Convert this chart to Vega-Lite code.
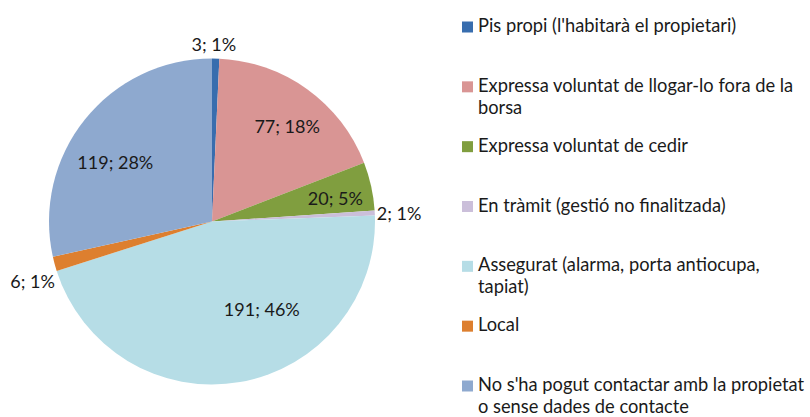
{
  "$schema": "https://vega.github.io/schema/vega-lite/v6.json",
  "padding": {"left": 0, "top": 17, "right": 0, "bottom": 0},
  "autosize": {"type": "pad"},
  "spacing": 0,
  "bounds": "flush",
  "background": "white",
  "config": {"view": {"stroke": null}, "font": "Lato"},
  "data": {
    "values": [
      {"cat": "Pis propi (l'habitarà el propietari)", "value": 3, "label": "3; 1%", "order": 1},
      {"cat": "Expressa voluntat de llogar-lo fora de la\nborsa", "value": 77, "label": "77; 18%", "order": 2},
      {"cat": "Expressa voluntat de cedir", "value": 20, "label": "20; 5%", "order": 3},
      {"cat": "En tràmit (gestió no finalitzada)", "value": 2, "label": "2; 1%", "order": 4},
      {"cat": "Assegurat (alarma, porta antiocupa,\ntapiat)", "value": 191, "label": "191; 46%", "order": 5},
      {"cat": "Local", "value": 6, "label": "6; 1%", "order": 6},
      {"cat": "No s'ha pogut contactar amb la propietat\n\u00a0o sense dades de contacte", "value": 119, "label": "119; 28%", "order": 7}
    ]
  },
  "hconcat": [
    {
      "width": 424,
      "height": 393,
      "layer": [
        {
          "mark": {"type": "arc", "outerRadius": 163, "yOffset": 7},
          "encoding": {
            "theta": {"field": "value", "type": "quantitative", "stack": true},
            "order": {"field": "order", "type": "quantitative"},
            "color": {
              "field": "order",
              "type": "ordinal",
              "scale": {"range": ["#386DAE", "#D99594", "#809E3F", "#CBBFDA", "#B6DDE6", "#DD7F2F", "#8EA9CF"]},
              "legend": null
            }
          }
        },
        {
          "mark": {
            "type": "text",
            "font": "Lato",
            "fontSize": 18,
            "color": "#1a1a1a",
            "baseline": "middle",
            "yOffset": 7,
            "radius": {"expr": "datum.value < 10 ? 170 : 115"},
            "align": {"expr": "datum.value == 2 ? 'left' : datum.value == 6 ? 'right' : 'center'"},
            "dx": {"expr": "datum.value == 3 ? -2 : datum.value == 2 ? -5 : datum.value == 6 ? 7 : datum.value == 77 ? 8 : datum.value == 20 ? 11 : datum.value == 191 ? 30 : datum.value == 119 ? -7 : 0"},
            "dy": {"expr": "datum.value == 3 ? -6 : datum.value == 2 ? 2 : datum.value == 6 ? 17 : datum.value == 20 ? 3 : datum.value == 191 ? -24 : datum.value == 119 ? 14 : 0"}
          },
          "encoding": {
            "theta": {"field": "value", "type": "quantitative", "stack": true},
            "order": {"field": "order", "type": "quantitative"},
            "text": {"field": "label", "type": "nominal"}
          }
        }
      ]
    },
    {
      "width": 87,
      "height": 393,
      "encoding": {
        "y": {"field": "order", "type": "ordinal", "scale": {"type": "point", "range": [9, 368], "padding": 0}, "axis": null}
      },
      "layer": [
        {
          "mark": {"type": "point", "shape": "square", "size": 121, "filled": true, "opacity": 1, "strokeWidth": 0},
          "encoding": {
            "color": {
              "field": "order",
              "type": "ordinal",
              "scale": {"range": ["#386DAE", "#D99594", "#809E3F", "#CBBFDA", "#B6DDE6", "#DD7F2F", "#8EA9CF"]},
              "legend": null
            }
          }
        },
        {
          "mark": {"type": "text", "align": "left", "baseline": "middle", "dx": 10.5, "font": "Lato", "fontSize": 18.3, "lineBreak": "\n", "lineHeight": 21.7, "color": "#1a1a1a"},
          "encoding": {"text": {"field": "cat", "type": "nominal"}}
        }
      ]
    }
  ]
}
